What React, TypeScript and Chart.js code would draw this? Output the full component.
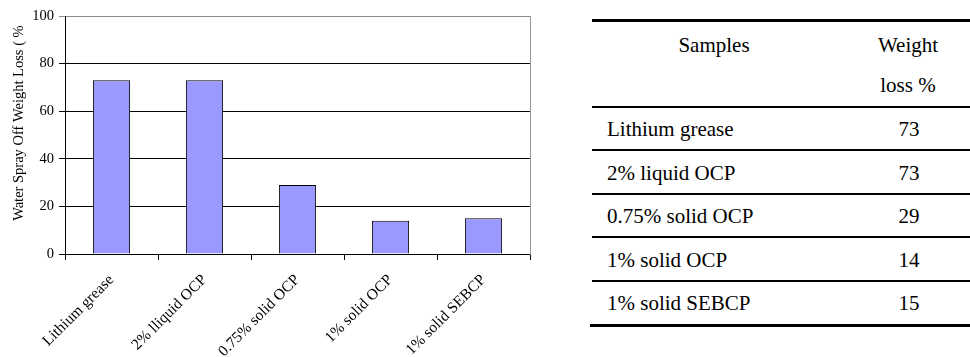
import { useEffect, useRef } from "react";
import { Chart, registerables } from "chart.js";

Chart.register(...registerables);

// Water spray-off results per sample
const samples = ["Lithium grease", "2% liquid OCP", "0.75% solid OCP", "1% solid OCP", "1% solid SEBCP"];
const axisLabels = ["Lithium grease", "2% lliquid OCP", "0.75% solid OCP", "1% solid OCP", "1% solid SEBCP"];
const weightLoss = [73, 73, 29, 14, 15];
const yTicks = [0, 20, 40, 60, 80, 100];
const yTitle = "Water Spray Off Weight Loss ( %";
const tableHeader = ["Samples", "Weight", "loss %"];

const SERIF = "'Liberation Serif', 'Times New Roman', serif";

// Vertical axis caption, placed slightly above the middle of the plot area
const yTitlePlugin = {
  id: "yTitle",
  afterDraw(chart: any) {
    const { ctx, chartArea } = chart;
    const cy = chartArea.top + (chartArea.bottom - chartArea.top) * 0.45;
    ctx.save();
    ctx.translate(19, cy);
    ctx.rotate(-Math.PI / 2);
    ctx.font = `14.5px ${SERIF}`;
    ctx.fillStyle = "#000000";
    ctx.textAlign = "center";
    ctx.textBaseline = "middle";
    ctx.fillText(yTitle, 0, 0);
    ctx.restore();
  },
};

function BarChart() {
  const ref = useRef<HTMLCanvasElement | null>(null);

  useEffect(() => {
    if (!ref.current) return;
    const chart = new Chart(ref.current, {
      type: "bar",
      data: {
        labels: axisLabels,
        datasets: [
          {
            data: weightLoss,
            backgroundColor: "#9999ff",
            borderColor: "#000000",
            borderWidth: 1,
            barPercentage: 0.4,
            categoryPercentage: 1,
          },
        ],
      },
      plugins: [yTitlePlugin],
      options: {
        animation: false,
        responsive: false,
        layout: { padding: { top: 16, right: 30, left: 0, bottom: 0 } },
        plugins: { legend: { display: false }, tooltip: { enabled: false } },
        scales: {
          x: {
            grid: { drawOnChartArea: false, tickLength: 6, color: "#000000", offset: true },
            border: { color: "#000000" },
            ticks: {
              font: { family: SERIF, size: 15.5 },
              color: "#000000",
              minRotation: 45,
              maxRotation: 45,
              padding: 11,
            },
            afterFit: (s: any) => {
              s.height = 103;
            },
          },
          y: {
            min: 0,
            max: 100,
            afterBuildTicks: (s: any) => {
              s.ticks = yTicks.map((v) => ({ value: v }));
            },
            ticks: { font: { family: SERIF, size: 14.5 }, color: "#000000", padding: 5 },
            grid: {
              color: (ctx: any) => (ctx.tick && ctx.tick.value === 100 ? "#8c8c8c" : "#000000"),
              tickLength: 6,
            },
            border: { color: "#000000" },
            afterFit: (s: any) => {
              s.width = 65;
            },
          },
          y2: {
            position: "right",
            min: 0,
            max: 100,
            ticks: { display: false },
            grid: { drawOnChartArea: false, drawTicks: false },
            border: { color: "#999999" },
            afterFit: (s: any) => {
              s.width = 0;
            },
          },
        },
      },
    });
    return () => chart.destroy();
  }, []);

  return (
    <canvas
      ref={ref}
      width={560}
      height={357}
      style={{ position: "absolute", left: 0, top: 0, width: 560, height: 357 }}
    />
  );
}

function Rule({ top, left, height }: { top: number; left: number; height: number }) {
  return (
    <div
      style={{
        position: "absolute",
        top,
        left,
        width: 970 - left,
        height,
        background: "#000000",
      }}
    />
  );
}

function Cell({ text, baseline, x, align }: { text: string; baseline: number; x: number; align: "left" | "center" }) {
  const style: any = {
    position: "absolute",
    top: baseline - 19,
    lineHeight: "24px",
    fontSize: 21,
    fontFamily: SERIF,
    color: "#000000",
    whiteSpace: "nowrap",
  };
  if (align === "left") {
    style.left = x;
  } else {
    style.left = x - 100;
    style.width = 200;
    style.textAlign = "center";
  }
  return <div style={style}>{text}</div>;
}

function ResultsTable() {
  const rowBaseline = (i: number) => 136 + i * 43.5;
  return (
    <div>
      <Rule top={19} left={592} height={3} />
      <Cell text={tableHeader[0]} baseline={51.7} x={714} align="center" />
      <Cell text={tableHeader[1]} baseline={51.7} x={908} align="center" />
      <Cell text={tableHeader[2]} baseline={91.7} x={908} align="center" />
      <Rule top={106} left={592} height={2} />
      {samples.map((name, i) => (
        <div key={name}>
          <Cell text={name} baseline={rowBaseline(i)} x={607} align="left" />
          <Cell text={String(weightLoss[i])} baseline={rowBaseline(i)} x={909} align="center" />
          {i < samples.length - 1 ? <Rule top={149 + i * 43.7} left={592} height={2} /> : null}
        </div>
      ))}
      <Rule top={324} left={590} height={3} />
    </div>
  );
}

export default function App() {
  return (
    <div style={{ position: "absolute", left: 0, top: 0, width: 970, height: 357, background: "#ffffff", overflow: "hidden" }}>
      <BarChart />
      <ResultsTable />
    </div>
  );
}
